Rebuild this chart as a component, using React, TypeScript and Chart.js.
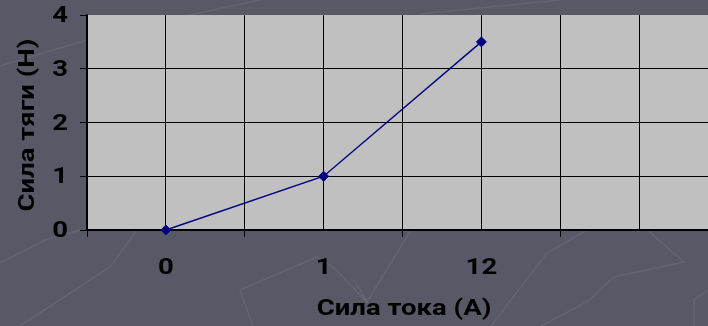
import { useEffect, useRef } from 'react';
import { Chart, registerables } from 'chart.js';

Chart.register(...registerables);

// Current (category labels) and the measured pulling force for each
const currentLabels = ['0', '1', '12'];
const forceValues = [0, 1, 3.5];
const forceTicks = [0, 1, 2, 3, 4];
const xTitle = 'Сила тока (А)';
const yTitle = 'Сила тяги (Н)';
// category slots along the x axis; the last one stays empty
const slotCount = 4;

const FONT = 'Roboto, "Liberation Sans", sans-serif';
const FONT_SIZE = 22;
const TEXT_STRETCH = 1.25; // wide lettering
const PAGE_BG = '#575967';
const PLOT_BG = '#c0c0c0';
const SERIES = '#000080';

// faint ornamental strokes of the slide backdrop
const backdropStrokes: number[][] = [
  [0, 66, 120, 30, 260, 0],
  [0, 263, 45, 240, 80, 230],
  [20, 326, 110, 267, 137, 230],
  [253, 326, 240, 290, 317, 257, 333, 267, 367, 302, 411, 230],
  [354, 280, 367, 302],
  [491, 326, 547, 253, 587, 230],
  [541, 326, 587, 302, 614, 277, 684, 262, 647, 230],
  [708, 290, 694, 300, 694, 326],
  [420, 14, 560, 0],
];

function drawWide(
  ctx: CanvasRenderingContext2D,
  text: string,
  x: number,
  y: number,
  angle: number,
  align: CanvasTextAlign
) {
  ctx.save();
  ctx.translate(x, y);
  ctx.rotate(angle);
  ctx.scale(TEXT_STRETCH, 1);
  ctx.textAlign = align;
  ctx.fillText(text, 0, 0);
  ctx.restore();
}

const backdrop = {
  id: 'backdrop',
  beforeDraw(chart: Chart) {
    const { ctx, chartArea } = chart;
    ctx.save();
    ctx.fillStyle = PAGE_BG;
    ctx.fillRect(0, 0, chart.width, chart.height);
    ctx.strokeStyle = 'rgba(255,255,255,0.07)';
    ctx.lineWidth = 1.5;
    for (const s of backdropStrokes) {
      ctx.beginPath();
      ctx.moveTo(s[0], s[1]);
      for (let i = 2; i < s.length; i += 2) ctx.lineTo(s[i], s[i + 1]);
      ctx.stroke();
    }
    ctx.fillStyle = PLOT_BG;
    ctx.fillRect(chartArea.left, chartArea.top, chartArea.right - chartArea.left, chartArea.bottom - chartArea.top);
    ctx.restore();
  },
};

// tick labels and axis titles in the wide bold lettering
const axisText = {
  id: 'axisText',
  afterDraw(chart: Chart) {
    const { ctx, chartArea } = chart;
    const xs: any = chart.scales.x;
    const ys: any = chart.scales.y;
    ctx.save();
    ctx.fillStyle = '#000';
    ctx.font = `bold ${FONT_SIZE}px ${FONT}`;
    ctx.textBaseline = 'middle';
    forceTicks.forEach((v) => drawWide(ctx, String(v), chartArea.left - 19, ys.getPixelForValue(v) + 1.5, 0, 'right'));
    currentLabels.forEach((label, i) => drawWide(ctx, label, xs.getPixelForValue(i), chartArea.bottom + 38.5, 0, 'center'));
    drawWide(ctx, xTitle, (chartArea.left + chartArea.right) / 2 + 1.5, chartArea.bottom + 79.5, 0, 'center');
    drawWide(ctx, yTitle, 28.5, (chartArea.top + chartArea.bottom) / 2 + 2.5, -Math.PI / 2, 'center');
    ctx.restore();
  },
};

export default function App() {
  const canvasRef = useRef<HTMLCanvasElement | null>(null);

  useEffect(() => {
    document.body.style.margin = '0';
    const canvas = canvasRef.current;
    if (!canvas) return;

    const xMin = -0.5;
    const xMax = slotCount - 0.5;
    const xTickValues: number[] = [];
    for (let v = xMin; v <= xMax + 1e-9; v += 0.5) xTickValues.push(v);

    const chart = new Chart(canvas, {
      type: 'line',
      data: {
        datasets: [
          {
            data: forceValues.map((y, i) => ({ x: i, y })),
            borderColor: SERIES,
            borderWidth: 1.4,
            pointStyle: 'rectRot',
            pointRadius: 5,
            pointBackgroundColor: SERIES,
            pointBorderColor: SERIES,
            pointBorderWidth: 1,
            clip: false,
          },
        ],
      },
      options: {
        animation: false,
        responsive: false,
        layout: { autoPadding: false, padding: { top: 15, left: 0, right: 0, bottom: 0 } },
        plugins: { legend: { display: false }, tooltip: { enabled: false } },
        scales: {
          x: {
            type: 'linear',
            min: xMin,
            max: xMax,
            afterBuildTicks(scale: any) {
              scale.ticks = xTickValues.map((value) => ({ value }));
            },
            afterFit(scale: any) {
              scale.height = 96;
            },
            border: { display: true, color: '#000', width: 1.5 },
            grid: {
              color: '#000',
              lineWidth: 1,
              tickLength: 7,
              tickColor: (ctx: any) =>
                ctx.tick && Math.abs(ctx.tick.value % 1) === 0.5 ? '#000' : 'rgba(0,0,0,0)',
            },
            ticks: { display: false },
            title: { display: false },
          },
          y: {
            type: 'linear',
            min: forceTicks[0],
            max: forceTicks[forceTicks.length - 1],
            afterBuildTicks(scale: any) {
              scale.ticks = forceTicks.map((value) => ({ value }));
            },
            afterFit(scale: any) {
              scale.width = 87;
            },
            border: { display: true, color: '#000', width: 1.5 },
            grid: {
              color: (ctx: any) =>
                ctx.tick && ctx.tick.value === forceTicks[forceTicks.length - 1] ? 'rgba(0,0,0,0)' : '#000',
              lineWidth: 1,
              tickLength: 7,
              tickColor: '#000',
            },
            ticks: { display: false },
            title: { display: false },
          },
        },
      },
      plugins: [backdrop, axisText],
    });

    return () => chart.destroy();
  }, []);

  return (
    <div style={{ position: 'fixed', left: 0, top: 0, width: 708, height: 326, overflow: 'hidden' }}>
      <canvas ref={canvasRef} width={718} height={326} style={{ display: 'block' }} />
    </div>
  );
}
